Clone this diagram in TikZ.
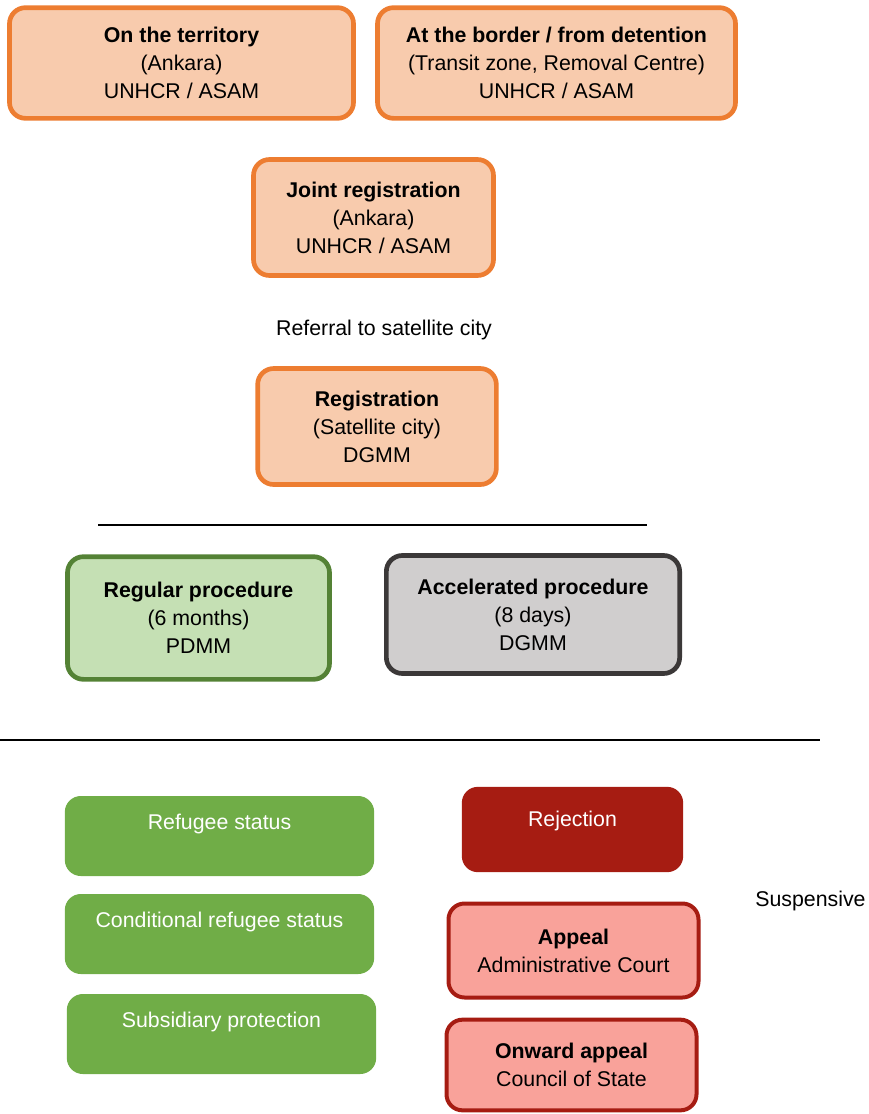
\documentclass[tikz,border=0pt]{standalone}
\usepackage{fontspec}
\setmainfont{Liberation Sans}
\definecolor{orangeline}{HTML}{ED7D31}
\definecolor{orangefill}{HTML}{F8CBAD}
\definecolor{greenline}{HTML}{548235}
\definecolor{greenfill}{HTML}{C5E0B4}
\definecolor{grayline}{HTML}{3B3838}
\definecolor{grayfill}{HTML}{D0CECE}
\definecolor{statusgreen}{HTML}{70AD47}
\definecolor{darkred}{HTML}{A61C12}
\definecolor{pinkfill}{HTML}{F9A29A}
\begin{document}
\begin{tikzpicture}[x=0.75pt, y=-0.75pt]
		\tikzset{box/.style={rectangle, rounded corners=12pt, align=center, font=\fontsize{16pt}{21pt}\selectfont, inner sep=0pt},
			stage/.style={box, draw=orangeline, fill=orangefill, line width=3.5pt},
			proc/.style={box, line width=3.5pt},
			outcome/.style={box, fill=statusgreen, text=white, minimum width=232pt, minimum height=60pt},
			rule/.style={line width=2.2pt}};

		\useasboundingbox (0,0) rectangle (868,1114);

		\node[stage, minimum width=258pt, minimum height=83pt] (territory) at (181.5,63)
			{\textbf{On the territory}\\(Ankara)\\UNHCR / ASAM};
		\node[stage, minimum width=268.5pt, minimum height=83pt] (border) at (556.5,63)
			{\textbf{At the border / from detention}\\(Transit zone, Removal Centre)\\UNHCR / ASAM};
		\node[stage, minimum width=180pt, minimum height=87pt] (joint) at (373.5,217.5)
			{\textbf{Joint registration}\\(Ankara)\\UNHCR / ASAM};
		\node[font=\fontsize{16pt}{21pt}\selectfont] (referral) at (384,330) {Referral to satellite city};
		\node[stage, minimum width=179pt, minimum height=87pt] (registration) at (377,426.5)
			{\textbf{Registration}\\(Satellite city)\\DGMM};

		\coordinate (r1a) at (98,525);
		\coordinate (r1b) at (647,525);
		\draw[rule] (r1a) -- (r1b);

		\node[proc, draw=greenline, fill=greenfill, minimum width=196.5pt, minimum height=92pt] (regular) at (198.5,618)
			{\textbf{Regular procedure}\\(6 months)\\PDMM};
		\node[proc, draw=grayline, fill=grayfill, minimum width=220pt, minimum height=88.5pt] (accelerated) at (533,614.5)
			{\textbf{Accelerated procedure}\\(8 days)\\DGMM};

		\coordinate (r2a) at (0,740);
		\coordinate (r2b) at (820,740);
		\draw[rule] (r2a) -- (r2b);

		\node[outcome] (refugee) at (219.5,836) {Refugee status\\\mbox{}};
		\node[outcome] (conditional) at (219.5,934) {Conditional refugee status\\\mbox{}};
		\node[outcome] (subsidiary) at (221.5,1034) {Subsidiary protection\\\mbox{}};

		\node[box, fill=darkred, text=white, minimum width=166pt, minimum height=64pt] (rejection) at (572.5,829.5)
			{Rejection\\[-5pt]\mbox{}};
		\node[proc, draw=darkred, fill=pinkfill, line width=3pt, minimum width=187.5pt, minimum height=70.5pt] (appeal) at (573.5,950.5)
			{\textbf{Appeal}\\Administrative Court};
		\node[proc, draw=darkred, fill=pinkfill, line width=3pt, minimum width=187.5pt, minimum height=68pt] (onward) at (571.5,1065)
			{\textbf{Onward appeal}\\Council of State};

		\node[font=\fontsize{16pt}{21pt}\selectfont, anchor=west, inner sep=0pt] (suspensive) at (755,901) {Suspensive};

	\end{tikzpicture}
\end{document}
